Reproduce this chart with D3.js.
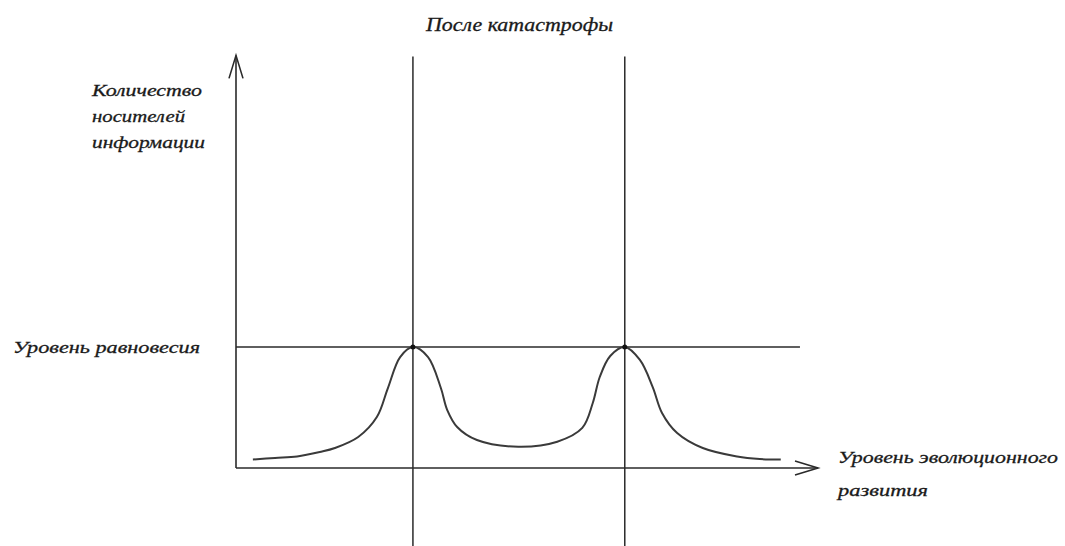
<!DOCTYPE html>
<html><head><meta charset="utf-8">
<script src="https://cdn.jsdelivr.net/npm/d3@7"></script>
<style>html,body{margin:0;padding:0;background:#fff;}svg{display:block;}</style>
</head><body>
<script>
// ---- data ----
const curveX = [2.9, 6.7, 10.5, 14.4, 17.0, 21.0, 24.2, 26.1, 28.2, 30.4, 33.0, 35.2, 36.3, 38.0, 41.4, 48.5, 55.2, 59.5, 61.3, 62.5, 64.3, 66.8, 69.4, 71.6, 73.2, 75.8, 80.2, 86.1, 90.0, 93.6];
const curveY = [7.0, 8.3, 9.5, 13.2, 16.5, 25.6, 42.1, 66.1, 91.7, 100, 91.7, 66.1, 47.9, 33.9, 23.1, 17.6, 21.7, 33.1, 53.7, 75.2, 92.6, 100, 89.3, 66.9, 45.5, 28.9, 16.5, 9.5, 7.4, 7.0];
const catastropheX = [30.4, 66.8];
const catastropheExtent = [-65, 340];
const equilibrium = 100;
const equilibriumEnd = 96.9;
const axisXMax = 100;
const axisYMax = 341;
const titleText = "После катастрофы";
const yLabelLines = ["Количество", "носителей", "информации"];
const xLabelLines = ["Уровень эволюционного", "развития"];
const eqLabel = "Уровень равновесия";

// ---- drawing ----
const W = 1065, H = 546;
const svg = d3.select("body").append("svg").attr("width", W).attr("height", H);
const x = d3.scaleLinear().domain([0, 100]).range([236, 818]);
const y = d3.scaleLinear().domain([0, 100]).range([468, 347]);
const ink = "#2a2a2a";

// catastrophe lines
svg.selectAll("line.cat").data(catastropheX).join("line")
  .attr("x1", d => x(d)).attr("x2", d => x(d))
  .attr("y1", y(catastropheExtent[1])).attr("y2", y(catastropheExtent[0]))
  .attr("stroke", ink).attr("stroke-width", 1.5);

// equilibrium line
svg.append("line")
  .attr("x1", x(0)).attr("x2", x(equilibriumEnd))
  .attr("y1", y(equilibrium)).attr("y2", y(equilibrium))
  .attr("stroke", ink).attr("stroke-width", 1.5);

// axes
svg.append("line").attr("x1", x(0)).attr("x2", x(0)).attr("y1", y(0)).attr("y2", y(axisYMax))
  .attr("stroke", ink).attr("stroke-width", 1.6);
svg.append("line").attr("x1", x(0)).attr("x2", x(axisXMax)).attr("y1", y(0)).attr("y2", y(0))
  .attr("stroke", ink).attr("stroke-width", 1.6);
// arrow heads (open)
svg.append("path")
  .attr("d", `M${x(0)-7},${y(axisYMax)+23} L${x(0)},${y(axisYMax)} L${x(0)+7},${y(axisYMax)+23}`)
  .attr("fill", "none").attr("stroke", ink).attr("stroke-width", 1.6);
svg.append("path")
  .attr("d", `M${x(axisXMax)-23},${y(0)-7} L${x(axisXMax)},${y(0)} L${x(axisXMax)-23},${y(0)+7}`)
  .attr("fill", "none").attr("stroke", ink).attr("stroke-width", 1.6);

// curve
const pts = curveX.map((v, i) => [v, curveY[i]]);
svg.append("path").datum(pts)
  .attr("d", d3.line().x(d => x(d[0])).y(d => y(d[1])).curve(d3.curveCatmullRom.alpha(0.5)))
  .attr("fill", "none").attr("stroke", "#3a3a3a").attr("stroke-width", 2);

// peak dots
svg.selectAll("circle.pk").data(catastropheX).join("circle")
  .attr("cx", d => x(d)).attr("cy", y(equilibrium)).attr("r", 2.5).attr("fill", "#111");

// texts
const font = "'Liberation Serif', 'DejaVu Serif', serif";
function txt(s, tx, ty, len, size) {
  svg.append("text").attr("x", tx).attr("y", ty).text(s)
    .attr("font-family", font).attr("font-style", "italic").attr("font-size", size)
    .attr("fill", "#1a1a1a").attr("stroke", "#1a1a1a").attr("stroke-width", 0.3)
    .attr("textLength", len).attr("lengthAdjust", "spacingAndGlyphs");
}
txt(titleText, 426, 31, 187, 18);
const yl = [[92, 96, 110], [92, 122, 93], [92, 148, 113]];
yLabelLines.forEach((s, i) => txt(s, yl[i][0], yl[i][1], yl[i][2], 17));
txt(eqLabel, 13, 353, 187, 17);
txt(xLabelLines[0], 838, 463, 220, 17);
txt(xLabelLines[1], 838, 496, 90, 17);
</script>
</body></html>
